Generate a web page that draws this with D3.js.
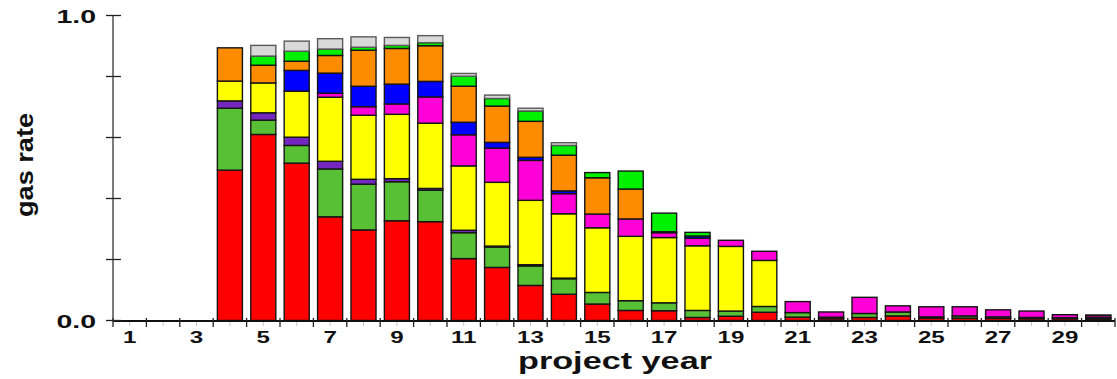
<!DOCTYPE html>
<html>
<head>
<meta charset="utf-8">
<script src="https://cdn.jsdelivr.net/npm/d3@7"></script>
<style>
  html, body { margin: 0; padding: 0; background: #fff; }
  svg { display: block; }
  text { font-family: "Liberation Sans", Arial, sans-serif; font-weight: bold; fill: #111; }
</style>
</head>
<body>
<svg id="chart" width="1117" height="379"></svg>
<script>
// Project years on the horizontal axis
const years = d3.range(1, 31);
const xTickLabels = [1, 3, 5, 7, 9, 11, 13, 15, 17, 19, 21, 23, 25, 27, 29];
const yTickValues = [0, 0.2, 0.4, 0.6, 0.8, 1.0];
const yTickLabels = ["0.0", "", "", "", "", "1.0"];

// Stack order, bottom to top
const seriesNames = ["s1", "s2", "s3", "s4", "s5", "s6", "s7", "s8", "s9"];
const seriesColors = ["#ff0000", "#58c034", "#7327c0", "#ffff00", "#ff00d8", "#0000ff", "#ff8c00", "#00f000", "#d9d9d9"];

// Gas rate contribution of each series, years 1..30
const s1 = [0, 0, 0, .493, .610, .516, .340, .297, .327, .324, .203, .174, .115, .086, .054, .033, .032, .010, .014, .027, .011, .006, .010, .015, .008, .008, .007, .006, .006, .005];
const s2 = [0, 0, 0, .203, .047, .058, .157, .150, .128, .103, .085, .067, .064, .051, .038, .032, .026, .023, .017, .019, .015, .005, .013, .013, .004, .007, .005, .004, .003, .002];
const s3 = [0, 0, 0, .024, .024, .027, .025, .016, .010, .006, .008, .003, .004, .002, 0, 0, 0, 0, 0, 0, 0, 0, 0, 0, 0, 0, 0, 0, 0, .002];
const s4 = [0, 0, 0, .065, .098, .151, .210, .210, .211, .214, .211, .209, .211, .211, .212, .211, .214, .212, .212, .151, 0, 0, 0, 0, 0, 0, 0, 0, 0, 0];
const s5 = [0, 0, 0, 0, 0, 0, .013, .028, .034, .086, .102, .112, .131, .066, .045, .057, .016, .025, .020, .030, .036, .017, .053, .020, .033, .030, .023, .021, .010, .007];
const s6 = [0, 0, 0, 0, 0, .068, .066, .067, .065, .051, .041, .019, .010, .009, 0, 0, .003, .007, 0, 0, 0, 0, 0, 0, 0, 0, 0, 0, 0, .002];
const s7 = [0, 0, 0, .109, .058, .030, .058, .118, .117, .117, .118, .119, .118, .117, .119, .098, 0, 0, 0, 0, 0, 0, 0, 0, 0, 0, 0, 0, 0, 0];
const s8 = [0, 0, 0, 0, .030, .033, .021, .010, .010, .010, .033, .025, .034, .032, .017, .059, .061, .012, 0, 0, 0, 0, 0, 0, 0, 0, 0, 0, 0, 0];
const s9 = [0, 0, 0, 0, .035, .033, .034, .034, .026, .023, .009, .011, .009, .009, 0, 0, 0, 0, 0, 0, 0, 0, 0, 0, 0, 0, 0, 0, 0, 0];

const seriesValues = [s1, s2, s3, s4, s5, s6, s7, s8, s9];

const rows = years.map((yr, i) => {
  const r = { year: yr };
  seriesNames.forEach((n, k) => { r[n] = seriesValues[k][i]; });
  return r;
});

const svg = d3.select("#chart");

const x = d3.scaleBand()
  .domain(years)
  .range([113, 1115])
  .paddingInner(0.25)
  .paddingOuter(0.125);

const y = d3.scaleLinear()
  .domain([0, 1])
  .range([320.5, 15.5]);

const stacked = d3.stack().keys(seriesNames)(rows);
const color = d3.scaleOrdinal().domain(seriesNames).range(seriesColors);

// Stacked bars
const layers = svg.append("g").attr("class", "bars")
  .selectAll("g")
  .data(stacked)
  .join("g")
  .attr("fill", d => color(d.key))
  .attr("stroke", d => d.key === "s9" ? "#5a5a5a" : "#151515")
  .attr("stroke-width", 1.4);

layers.selectAll("rect")
  .data(d => d.filter(p => p[1] - p[0] > 0))
  .join("rect")
  .attr("x", p => x(p.data.year))
  .attr("width", x.bandwidth())
  .attr("y", p => y(p[1]))
  .attr("height", p => y(p[0]) - y(p[1]));

// X axis: baseline, slot boundary ticks and faint centre ticks
const step = x.step();
const gap = step - x.bandwidth();
const boundaries = years.map(yr => x(yr) - gap / 2).concat([x(30) + x.bandwidth() + gap / 2]);

const xAxis = svg.append("g").attr("class", "x-axis");
xAxis.selectAll("line.minor")
  .data(years)
  .join("line")
  .attr("class", "minor")
  .attr("x1", yr => x(yr) + x.bandwidth() / 2)
  .attr("x2", yr => x(yr) + x.bandwidth() / 2)
  .attr("y1", 321)
  .attr("y2", 326)
  .attr("stroke", "#c8c8c8")
  .attr("stroke-width", 1);

xAxis.append("line")
  .attr("x1", x.range()[0]).attr("x2", x.range()[1])
  .attr("y1", 321).attr("y2", 321)
  .attr("stroke", "#111").attr("stroke-width", 2);

xAxis.selectAll("line.major")
  .data(boundaries)
  .join("line")
  .attr("class", "major")
  .attr("x1", d => d).attr("x2", d => d)
  .attr("y1", 318).attr("y2", 327)
  .attr("stroke", "#222").attr("stroke-width", 1.3);

xAxis.selectAll("text")
  .data(xTickLabels)
  .join("text")
  .attr("transform", yr => `translate(${x(yr) + x.bandwidth() / 2},343) scale(1.42,1)`)
  .attr("text-anchor", "middle")
  .attr("font-size", 17)
  .text(d => d);

// Y axis
const yAxis = svg.append("g").attr("class", "y-axis");
yAxis.append("line")
  .attr("x1", 113).attr("x2", 113)
  .attr("y1", y(1)).attr("y2", 321)
  .attr("stroke", "#333").attr("stroke-width", 1.3);

yAxis.selectAll("line.tick")
  .data(yTickValues)
  .join("line")
  .attr("class", "tick")
  .attr("x1", 106).attr("x2", 121)
  .attr("y1", d => y(d)).attr("y2", d => y(d))
  .attr("stroke", "#222").attr("stroke-width", 1.3);

yAxis.selectAll("text")
  .data(yTickValues.map((v, i) => ({ v, label: yTickLabels[i] })).filter(d => d.label))
  .join("text")
  .attr("transform", d => `translate(96,${y(d.v) + 7.2}) scale(1.5,1)`)
  .attr("text-anchor", "end")
  .attr("font-size", 19)
  .text(d => d.label);

// Axis titles
svg.append("text")
  .attr("transform", "translate(33,165) rotate(-90)")
  .attr("text-anchor", "middle")
  .attr("font-size", 24)
  .attr("textLength", 104)
  .attr("lengthAdjust", "spacingAndGlyphs")
  .text("gas rate");

svg.append("text")
  .attr("x", 615)
  .attr("y", 369)
  .attr("text-anchor", "middle")
  .attr("font-size", 24.5)
  .attr("textLength", 194)
  .attr("lengthAdjust", "spacingAndGlyphs")
  .text("project year");
</script>
</body>
</html>
